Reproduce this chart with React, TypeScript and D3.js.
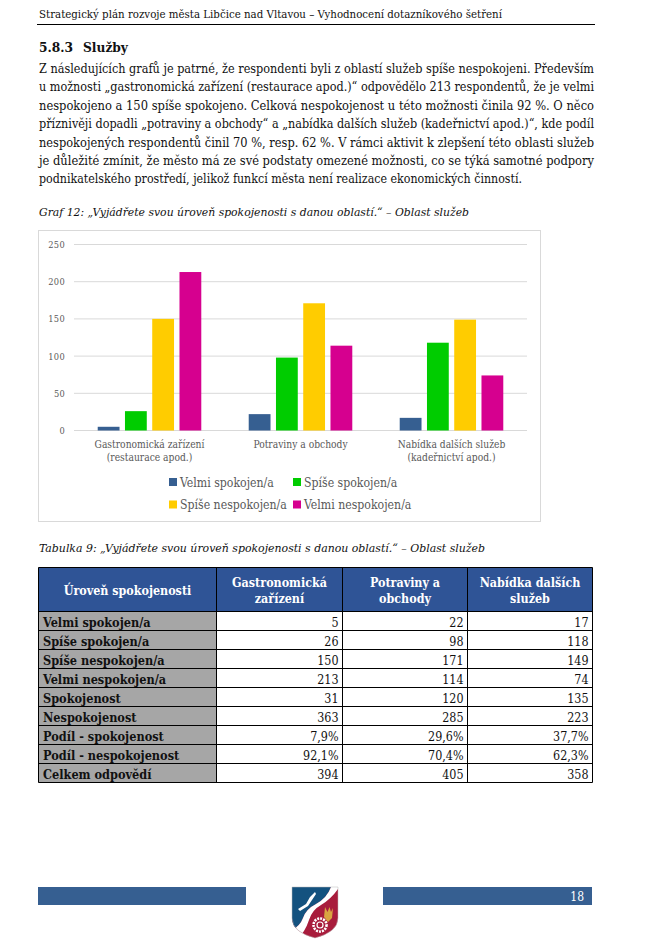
import React from "react";
import * as d3 from "d3";

const headerText = "Strategický plán rozvoje města Libčice nad Vltavou – Vyhodnocení dotazníkového šetření";
const paragraph = [
  "Z následujících grafů je patrné, že respondenti byli z oblastí služeb spíše nespokojeni. Především",
  "u možnosti „gastronomická zařízení (restaurace apod.)“ odpovědělo 213 respondentů, že je velmi",
  "nespokojeno a 150 spíše spokojeno. Celková nespokojenost u této možnosti činila 92 %. O něco",
  "příznivěji dopadli „potraviny a obchody“ a „nabídka dalších služeb (kadeřnictví apod.)“, kde podíl",
  "nespokojených respondentů činil 70 %, resp. 62 %. V rámci aktivit k zlepšení této oblasti služeb",
  "je důležité zmínit, že město má ze své podstaty omezené možnosti, co se týká samotné podpory",
  "podnikatelského prostředí, jelikož funkcí města není realizace ekonomických činností.",
];
const categories = ["Gastronomická zařízení|(restaurace apod.)", "Potraviny a obchody", "Nabídka dalších služeb|(kadeřnictví apod.)"];
const seriesNames = ["Velmi spokojen/a", "Spíše spokojen/a", "Spíše nespokojen/a", "Velmi nespokojen/a"];
const seriesColors = ["#365F91", "#00CC00", "#FFCC00", "#D6008F"];
const velmiSpokojen = [5, 22, 17];
const spiseSpokojen = [26, 98, 118];
const spiseNespokojen = [150, 171, 149];
const velmiNespokojen = [213, 114, 74];
const seriesValues = [velmiSpokojen, spiseSpokojen, spiseNespokojen, velmiNespokojen];
const tableHead = ["Úroveň spokojenosti", "Gastronomická|zařízení", "Potraviny a|obchody", "Nabídka dalších|služeb"];
const rowLabels = ["Velmi spokojen/a", "Spíše spokojen/a", "Spíše nespokojen/a", "Velmi nespokojen/a", "Spokojenost", "Nespokojenost", "Podíl - spokojenost", "Podíl - nespokojenost", "Celkem odpovědí"];
const rowValues = [
  ["5", "22", "17"], ["26", "98", "118"], ["150", "171", "149"], ["213", "114", "74"],
  ["31", "120", "135"], ["363", "285", "223"], ["7,9%", "29,6%", "37,7%"], ["92,1%", "70,4%", "62,3%"], ["394", "405", "358"],
];

const serif = "'DejaVu Serif', serif";
const base: React.CSSProperties = { fontFamily: serif, fontStretch: "condensed" };

export default function App() {
  const x0 = d3.scaleBand<number>().domain([0, 1, 2]).range([74, 527]);
  const x1 = d3.scaleBand<number>().domain([0, 1, 2, 3]).range([0, x0.bandwidth()]).paddingInner(0.2).paddingOuter(0.87);
  const y = d3.scaleLinear().domain([0, 250]).range([430.5, 244.5]);
  const colX = [38.5, 216.5, 342.5, 467.5, 592.5];
  const headTop = 567.5, headBottom = 611.5, rowH = 19;
  return (
    <svg width={645} height={943} style={{ position: "absolute", left: 0, top: 0, ...base }}>
      <rect width={645} height={943} fill="#fff" />
      <text x={39} y={17.5} fontSize={11} fill="#111" textLength={463} lengthAdjust="spacingAndGlyphs">{headerText}</text>
      <line x1={37} x2={595} y1={24.5} y2={24.5} stroke="#000" strokeWidth={1} />
      <text x={39} y={51.5} fontSize={13.6} fontWeight="bold" fill="#111">5.8.3</text>
      <text x={83} y={51.5} fontSize={13.6} fontWeight="bold" fill="#111">Služby</text>
      {paragraph.map((line, i) => (
        <text key={i} x={39} y={73 + i * 18.4} fontSize={12.2} fill="#111"
          textLength={i < 6 ? 555 : 483} lengthAdjust="spacingAndGlyphs">{line}</text>
      ))}
      <text x={39} y={216} fontSize={11.8} fontStyle="italic" fill="#111" textLength={430} lengthAdjust="spacingAndGlyphs">
        Graf 12: „Vyjádřete svou úroveň spokojenosti s danou oblastí.“ – Oblast služeb
      </text>

      <rect x={38.5} y={230.5} width={502} height={291} fill="#fff" stroke="#d9d9d9" />
      {y.ticks(5).map((t) => (
        <g key={t}>
          <line x1={74} x2={527} y1={y(t)} y2={y(t)} stroke="#d9d9d9" />
          <text x={65} y={y(t) + 3.5} textAnchor="end" fontSize={9.2} fill="#595959" letterSpacing={0.3}>{t}</text>
        </g>
      ))}
      {categories.map((c, ci) => (
        <g key={c}>
          {seriesValues.map((vals, si) => (
            <rect key={si} x={x0(ci)! + x1(si)!} y={y(vals[ci])} width={x1.bandwidth()} height={y(0) - y(vals[ci])} fill={seriesColors[si]} />
          ))}
          {c.split("|").map((l, li) => (
            <text key={li} x={x0(ci)! + x0.bandwidth() / 2} y={447.5 + li * 13} textAnchor="middle" fontSize={10.2} fill="#595959">{l}</text>
          ))}
        </g>
      ))}
      {seriesNames.map((n, i) => {
        const lx = [169, 293, 169, 293][i];
        const ly = [486.5, 486.5, 509, 509][i];
        return (
          <g key={n}>
            <rect x={lx} y={ly - 8.5} width={8} height={8} fill={seriesColors[i]} />
            <text x={lx + 11} y={ly} fontSize={12.2} fill="#595959">{n}</text>
          </g>
        );
      })}

      <text x={39} y={552} fontSize={11.8} fontStyle="italic" fill="#111" textLength={446} lengthAdjust="spacingAndGlyphs">
        Tabulka 9: „Vyjádřete svou úroveň spokojenosti s danou oblastí.“ – Oblast služeb
      </text>

      <rect x={colX[0]} y={headTop} width={colX[4] - colX[0]} height={headBottom - headTop} fill="#2F5496" />
      {tableHead.map((h, i) => {
        const lines = h.split("|");
        const cx = (colX[i] + colX[i + 1]) / 2;
        return lines.map((l, li) => (
          <text key={l} x={cx} y={lines.length === 1 ? 594.5 : 587 + li * 15.5} textAnchor="middle" fontSize={12.4} fontWeight="bold" fill="#fff">{l}</text>
        ));
      })}
      {rowLabels.map((r, ri) => {
        const top = headBottom + ri * rowH;
        return (
          <g key={r}>
            <rect x={colX[0]} y={top} width={colX[1] - colX[0]} height={rowH} fill="#A6A6A6" />
            <text x={43} y={top + 15} fontSize={12.6} fontWeight="bold" fill="#111">{r}</text>
            {rowValues[ri].map((v, ci) => (
              <text key={ci} x={colX[ci + 2] - 4} y={top + 15} textAnchor="end" fontSize={12.4} fill="#111">{v}</text>
            ))}
            <line x1={colX[0]} x2={colX[4]} y1={top} y2={top} stroke="#000" />
          </g>
        );
      })}
      <line x1={colX[0]} x2={colX[4]} y1={headTop} y2={headTop} stroke="#000" />
      <line x1={colX[0]} x2={colX[4]} y1={headBottom + 9 * rowH} y2={headBottom + 9 * rowH} stroke="#000" />
      {colX.map((cx) => (
        <line key={cx} x1={cx} x2={cx} y1={headTop} y2={headBottom + 9 * rowH} stroke="#000" />
      ))}

      <rect x={38} y={887} width={208} height={18} fill="#365F91" />
      <rect x={383} y={887} width={209} height={18} fill="#365F91" />
      <text x={584} y={900.5} textAnchor="end" fontSize={12} fill="#fff">18</text>

      <g>
        <clipPath id="shield"><path d="M292 887H338V918Q338 932 315 938Q292 932 292 918Z" /></clipPath>
        <g clipPath="url(#shield)">
          <rect x={292} y={887} width={46} height={51} fill="#A81C3C" />
          <path d="M292 887H331Q327 898 316 904Q306 909 303 918Q300 926 292 930Z" fill="#14527F" />
          <path d="M331 887H338V889Q331 899 321 905Q312 910 309 920Q305 932 298 938H292V930Q300 926 303 918Q306 909 316 904Q327 898 331 887Z" fill="#fff" />
          <path d="M298 909L306 904L310 897L315 892L316 894L312 900L308 906L300 911Z" fill="#fff" />
          <path d="M325 907l2.5 5 2-5 1.5 5 2-4-1 10-4 4-4-5z" fill="#D9A441" />
          <circle cx={320} cy={925} r={6.5} fill="none" stroke="#fff" strokeWidth={2.6} strokeDasharray="2 1" />
          <circle cx={320} cy={925} r={3} fill="none" stroke="#fff" strokeWidth={1.2} />
        </g>
        <path d="M292 887H338V918Q338 932 315 938Q292 932 292 918Z" fill="none" stroke="#bbb" strokeWidth={0.5} />
      </g>
    </svg>
  );
}
